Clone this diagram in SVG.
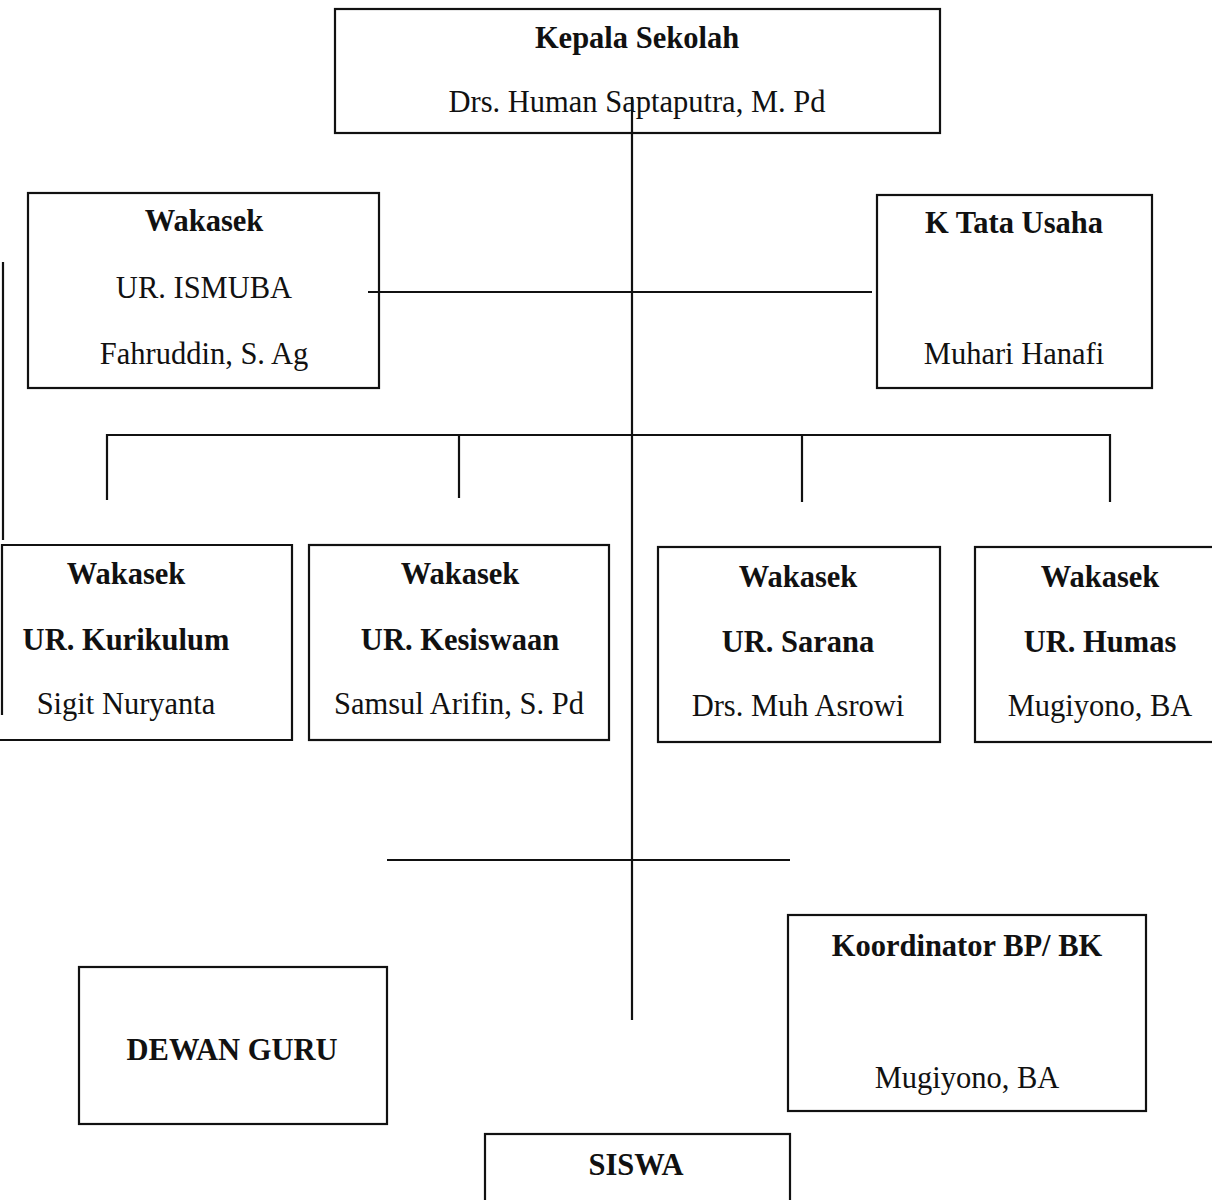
<svg xmlns="http://www.w3.org/2000/svg" width="1212" height="1200" viewBox="0 0 1212 1200">
<style>
  .box { fill: #fff; stroke: #111; stroke-width: 2.2; }
  .ln { fill: none; stroke: #111; stroke-width: 2.2; }
  text { font-family: "Liberation Serif", "Times New Roman", serif; font-size: 30.5px; fill: #111; text-anchor: middle; }
  .b { font-weight: bold; }
</style>
<rect width="1212" height="1200" fill="#fff"/>
<g id="kepala">
  <rect class="box" x="335" y="9" width="605" height="124"/>
  <text class="b" x="637" y="48">Kepala Sekolah</text>
  <text x="637" y="112">Drs. Human Saptaputra, M. Pd</text>
</g>
<g id="ismuba">
  <rect class="box" x="28" y="193" width="351" height="195"/>
  <text class="b" x="204" y="231">Wakasek</text>
  <text x="204" y="298">UR. ISMUBA</text>
  <text x="204" y="364">Fahruddin, S. Ag</text>
</g>
<g id="tatausaha">
  <rect class="box" x="877" y="195" width="275" height="193"/>
  <text class="b" x="1014" y="233">K Tata Usaha</text>
  <text x="1014" y="364">Muhari Hanafi</text>
</g>
<g id="kurikulum">
  <path class="box" d="M2 715 V545 H292 V740 H0"/>
  <text class="b" x="126" y="584">Wakasek</text>
  <text class="b" x="126" y="650">UR. Kurikulum</text>
  <text x="126" y="714">Sigit Nuryanta</text>
</g>
<g id="kesiswaan">
  <rect class="box" x="309" y="545" width="300" height="195"/>
  <text class="b" x="460" y="584">Wakasek</text>
  <text class="b" x="460" y="650">UR. Kesiswaan</text>
  <text x="459" y="714">Samsul Arifin, S. Pd</text>
</g>
<g id="sarana">
  <rect class="box" x="658" y="547" width="282" height="195"/>
  <text class="b" x="798" y="587">Wakasek</text>
  <text class="b" x="798" y="652">UR. Sarana</text>
  <text x="798" y="716">Drs. Muh Asrowi</text>
</g>
<g id="humas">
  <rect class="box" x="975" y="547" width="240" height="195"/>
  <text class="b" x="1100" y="587">Wakasek</text>
  <text class="b" x="1100" y="652">UR. Humas</text>
  <text x="1100" y="716">Mugiyono, BA</text>
</g>
<g id="dewanguru">
  <rect class="box" x="79" y="967" width="308" height="157"/>
  <text class="b" x="232" y="1060">DEWAN GURU</text>
</g>
<g id="koordinator">
  <rect class="box" x="788" y="915" width="358" height="196"/>
  <text class="b" x="967" y="956">Koordinator BP/ BK</text>
  <text x="967" y="1088">Mugiyono, BA</text>
</g>
<g id="siswa">
  <rect class="box" x="485" y="1134" width="305" height="80"/>
  <text class="b" x="636" y="1175">SISWA</text>
</g>
<g id="connectors">
  <line class="ln" x1="3" y1="262" x2="3" y2="540"/>
  <line class="ln" x1="368" y1="292" x2="872" y2="292"/>
  <path class="ln" d="M107 500 V435 H1110 V502"/>
  <line class="ln" x1="459" y1="435" x2="459" y2="498"/>
  <line class="ln" x1="802" y1="435" x2="802" y2="502"/>
  <line class="ln" x1="387" y1="860" x2="790" y2="860"/>
  <line class="ln" x1="632" y1="97" x2="632" y2="1020"/>
</g>
</svg>
